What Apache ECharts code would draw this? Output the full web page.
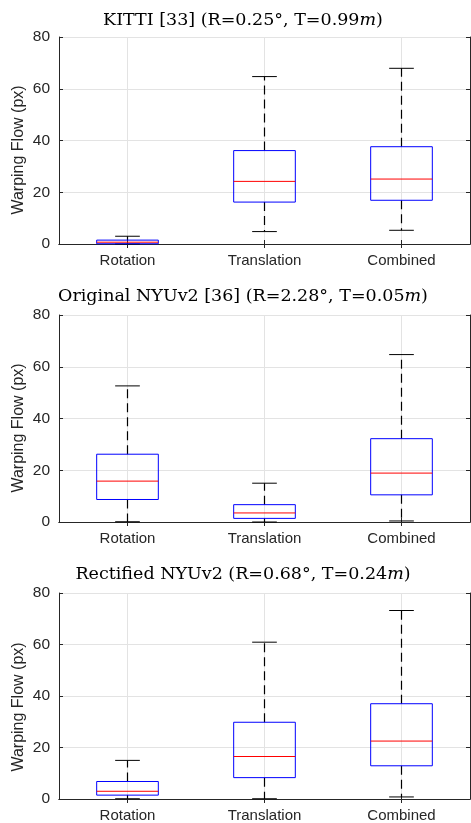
<!DOCTYPE html>
<html>
<head>
<meta charset="utf-8">
<script src="https://cdn.jsdelivr.net/npm/echarts@6/dist/echarts.min.js"></script>
<style>
html,body{margin:0;padding:0;background:#fff;}
#chart{width:471px;height:823px;}
</style>
</head>
<body>
<div id="chart"></div>
<script>
// ---- data ----
const categories = ['Rotation', 'Translation', 'Combined'];
const yTicks = [0, 20, 40, 60, 80];

const titles = [
  'KITTI [33] (R=0.25°, T=0.99{i|m})',
  'Original NYUv2 [36] (R=2.28°, T=0.05{i|m})',
  'Rectified NYUv2 (R=0.68°, T=0.24{i|m})'
];
const yAxisName = 'Warping Flow (px)';

// KITTI
const kittiLow    = [0.0, 4.8, 5.3];
const kittiQ1     = [0.1, 16.2, 16.9];
const kittiMedian = [0.7, 24.2, 25.1];
const kittiQ3     = [1.5, 36.1, 37.6];
const kittiHigh   = [3.0, 64.7, 67.9];

// Original NYUv2
const nyuLow    = [0.1, 0.0, 0.4];
const nyuQ1     = [8.7, 1.4, 10.5];
const nyuMedian = [15.8, 3.5, 18.9];
const nyuQ3     = [26.2, 6.7, 32.2];
const nyuHigh   = [52.6, 15.0, 64.7];

// Rectified NYUv2
const rectLow    = [0.1, 0.1, 0.8];
const rectQ1     = [1.5, 8.3, 12.9];
const rectMedian = [3.0, 16.5, 22.5];
const rectQ3     = [6.8, 29.8, 37.0];
const rectHigh   = [15.0, 60.9, 73.2];

const panels = [
  [kittiLow, kittiQ1, kittiMedian, kittiQ3, kittiHigh],
  [nyuLow, nyuQ1, nyuMedian, nyuQ3, nyuHigh],
  [rectLow, rectQ1, rectMedian, rectQ3, rectHigh]
];

// ---- layout ----
const gridTops = [37, 315, 593];
const gridH = 207;
const titleY = [20, 296, 574];
const nameY = [150, 428, 707];
const axisColor = '#262626';
const sansFont = '"Liberation Sans", Arial, sans-serif';
const serifFont = '"DejaVu Serif", "Liberation Serif", serif';

function renderItem(params, api) {
  const i = api.value(0);
  const band = api.size([1, 0])[0];
  const bw = band * 0.45, cw = band * 0.18;
  const pLow = api.coord([i, api.value(1)]);
  const pQ1 = api.coord([i, api.value(2)]);
  const pMed = api.coord([i, api.value(3)]);
  const pQ3 = api.coord([i, api.value(4)]);
  const pHigh = api.coord([i, api.value(5)]);
  const x = pMed[0];
  const dash = {stroke: '#000', lineWidth: 1.2, lineDash: [9, 5]};
  const solid = {stroke: '#000', lineWidth: 1};
  return {
    type: 'group',
    children: [
      {type: 'line', shape: {x1: x, y1: pQ3[1], x2: x, y2: pHigh[1]}, style: dash},
      {type: 'line', shape: {x1: x, y1: pQ1[1], x2: x, y2: pLow[1]}, style: dash},
      {type: 'line', shape: {x1: x - cw / 2, y1: pHigh[1], x2: x + cw / 2, y2: pHigh[1]}, style: solid},
      {type: 'line', shape: {x1: x - cw / 2, y1: pLow[1], x2: x + cw / 2, y2: pLow[1]}, style: solid},
      {type: 'rect', shape: {x: x - bw / 2, y: pQ3[1], width: bw, height: pQ1[1] - pQ3[1]},
        style: {fill: 'none', stroke: '#0000ff', lineWidth: 1}},
      {type: 'line', shape: {x1: x - bw / 2, y1: pMed[1], x2: x + bw / 2, y2: pMed[1]},
        style: {stroke: '#ff0000', lineWidth: 1}}
    ]
  };
}

const grid = [], xAxis = [], yAxis = [], series = [], graphic = [];
panels.forEach((p, k) => {
  grid.push({left: 59, top: gridTops[k], width: 411, height: gridH});
  xAxis.push({
    type: 'category', gridIndex: k, data: categories, position: 'bottom',
    axisLine: {show: true, lineStyle: {color: axisColor, width: 1}},
    axisTick: {show: true, inside: true, alignWithLabel: true, length: 4, lineStyle: {color: axisColor}},
    axisLabel: {color: axisColor, fontFamily: sansFont, fontSize: 15, margin: 9},
    splitLine: {show: true, alignWithLabel: true, lineStyle: {color: '#e3e3e3', width: 1}}
  });
  xAxis.push({
    type: 'category', gridIndex: k, data: categories, position: 'top',
    axisLine: {show: true, lineStyle: {color: axisColor, width: 1}},
    axisTick: {show: true, inside: true, alignWithLabel: true, length: 4, lineStyle: {color: axisColor}},
    axisLabel: {show: false}, splitLine: {show: false}
  });
  yAxis.push({
    type: 'value', gridIndex: k, min: yTicks[0], max: yTicks[yTicks.length - 1],
    interval: yTicks[1] - yTicks[0], position: 'left',
    axisLine: {show: true, lineStyle: {color: axisColor, width: 1}},
    axisTick: {show: true, inside: true, length: 4, lineStyle: {color: axisColor}},
    axisLabel: {color: axisColor, fontFamily: sansFont, fontSize: 15.5, margin: 9},
    splitLine: {show: true, lineStyle: {color: '#e3e3e3', width: 1}}
  });
  yAxis.push({
    type: 'value', gridIndex: k, min: yTicks[0], max: yTicks[yTicks.length - 1],
    interval: yTicks[1] - yTicks[0], position: 'right',
    axisLine: {show: true, lineStyle: {color: axisColor, width: 1}},
    axisTick: {show: true, inside: true, length: 4, lineStyle: {color: axisColor}},
    axisLabel: {show: false}, splitLine: {show: false}
  });
  const data = categories.map((c, i) => [i, p[0][i], p[1][i], p[2][i], p[3][i], p[4][i]]);
  series.push({
    type: 'custom', xAxisIndex: 2 * k, yAxisIndex: 2 * k,
    renderItem: renderItem,
    encode: {x: 0, y: [1, 2, 3, 4, 5]},
    data: data, silent: true, animation: false
  });
  graphic.push({
    type: 'text', x: 243, y: titleY[k],
    style: {
      text: titles[k], fill: '#000', font: '17.5px ' + serifFont,
      align: 'center', verticalAlign: 'middle',
      rich: {i: {fontStyle: 'italic', fontFamily: serifFont, fontSize: 17.5, fill: '#000'}}
    }
  });
  graphic.push({
    type: 'text', x: 19, y: nameY[k], rotation: Math.PI / 2,
    style: {
      text: yAxisName, fill: axisColor, font: '16px ' + sansFont,
      align: 'center', verticalAlign: 'middle'
    }
  });
});

const chart = echarts.init(document.getElementById('chart'), null, {renderer: 'canvas'});
chart.setOption({
  animation: false,
  backgroundColor: '#fff',
  grid, xAxis, yAxis, series, graphic
});
</script>
</body>
</html>
